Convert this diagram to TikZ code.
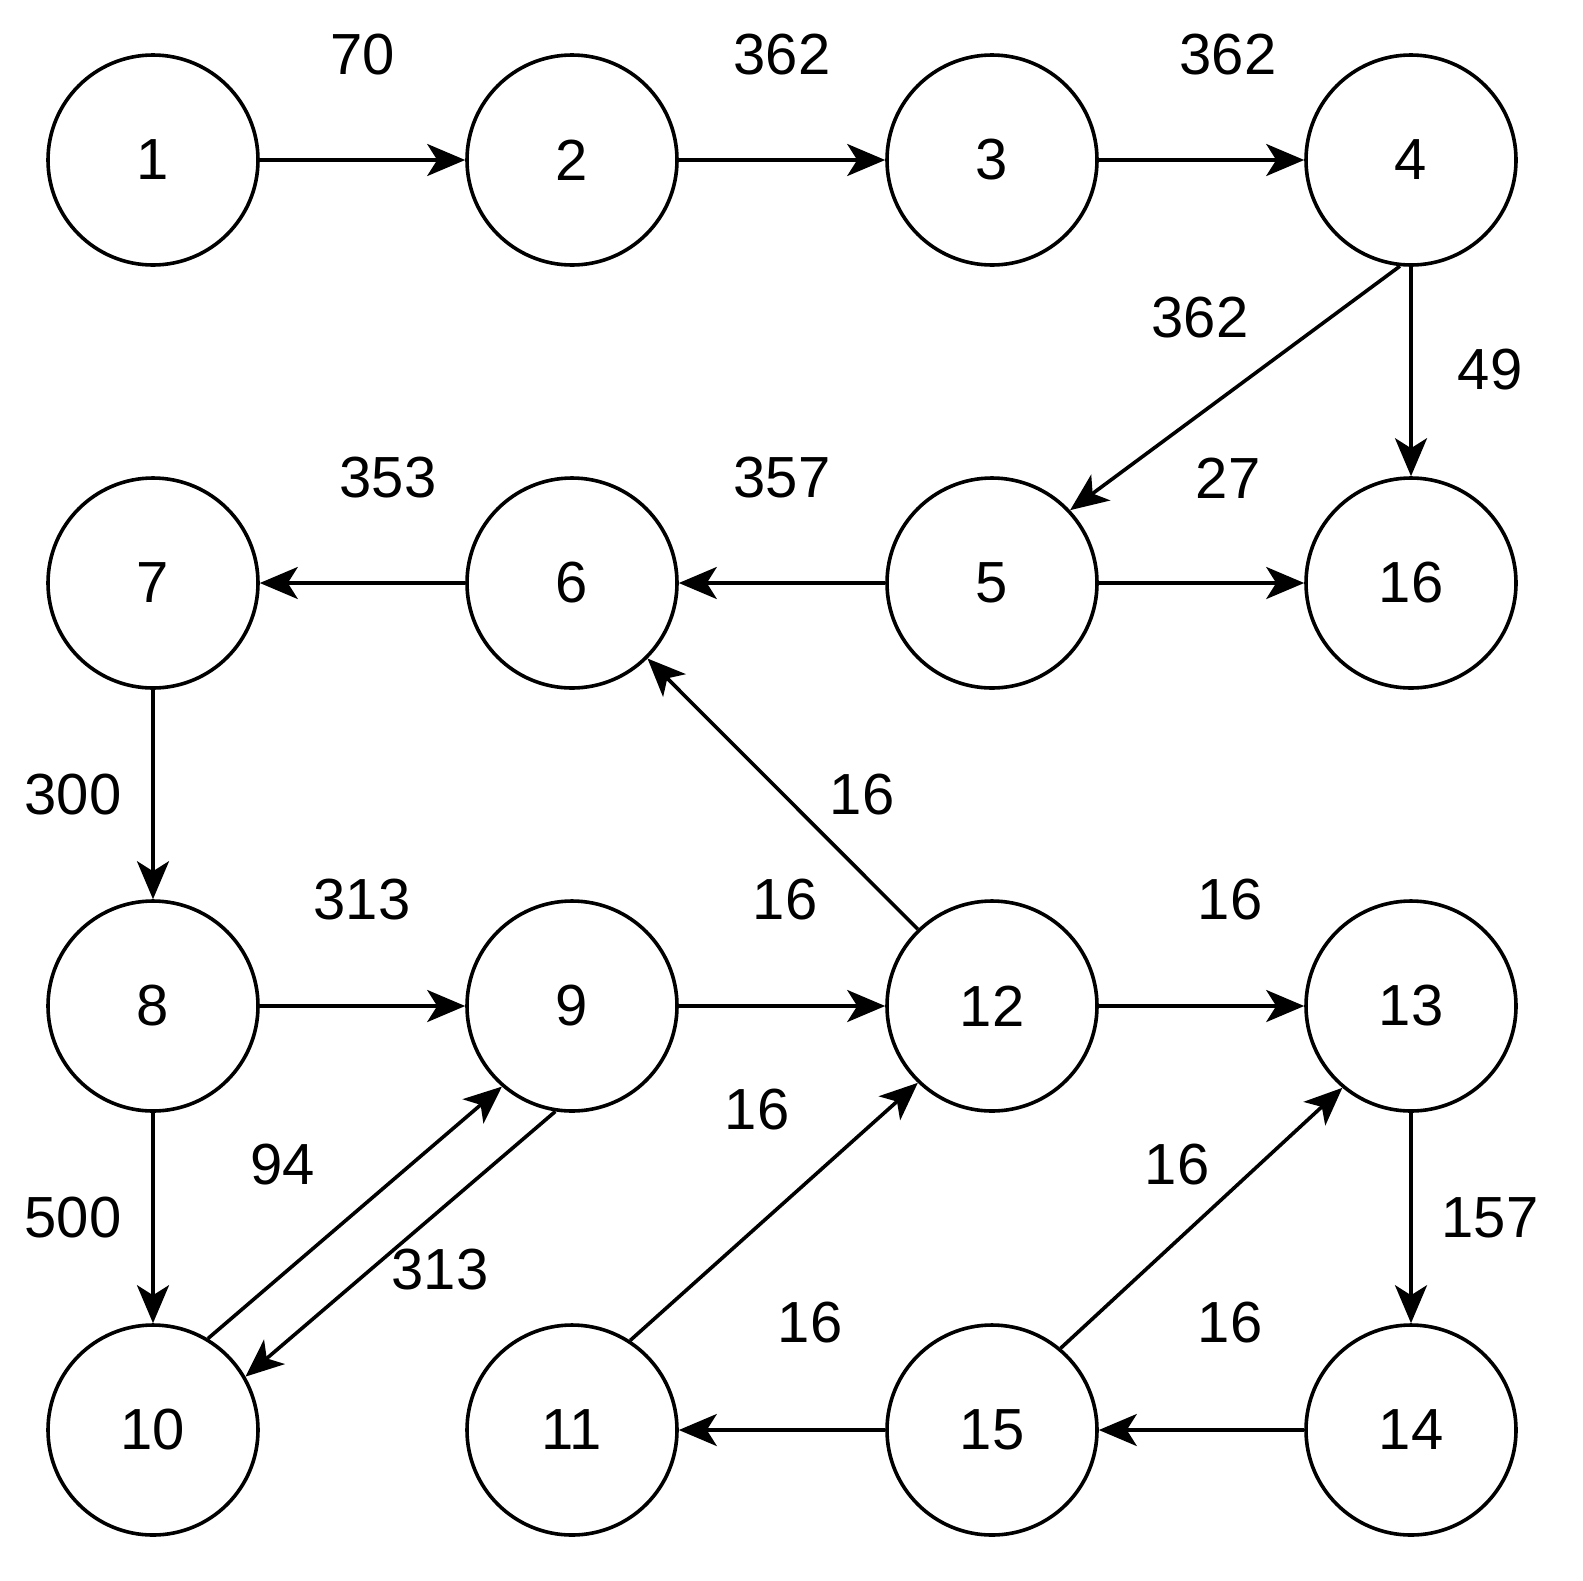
\documentclass[tikz,border=0pt]{standalone}
\usepackage{fontspec}
\setmainfont{Liberation Sans}
\usetikzlibrary{arrows.meta}
\begin{document}
\begin{tikzpicture}[x=0.5pt,y=-0.5pt,
  vert/.style={circle,draw,line width=1.8pt,minimum size=105pt,inner sep=0pt,font=\fontsize{29}{32}\selectfont},
  edge/.style={line width=1.8pt,-{Stealth[length=19pt,width=16pt,inset=5pt]}},
  lbl/.style={font=\fontsize{29}{32}\selectfont}]
\useasboundingbox (0,0) rectangle (1583,1580);
\node[vert] (n1) at (153,160) {1};
\node[vert] (n2) at (572,160) {2};
\node[vert] (n3) at (992,160) {3};
\node[vert] (n4) at (1411,160) {4};
\node[vert] (n7) at (153,583) {7};
\node[vert] (n6) at (572,583) {6};
\node[vert] (n5) at (992,583) {5};
\node[vert] (n16) at (1411,583) {16};
\node[vert] (n8) at (153,1006) {8};
\node[vert] (n9) at (572,1006) {9};
\node[vert] (n12) at (992,1006) {12};
\node[vert] (n13) at (1411,1006) {13};
\node[vert] (n10) at (153,1430) {10};
\node[vert] (n11) at (572,1430) {11};
\node[vert] (n15) at (992,1430) {15};
\node[vert] (n14) at (1411,1430) {14};
\draw[edge] (n1) -- (n2);
\draw[edge] (n2) -- (n3);
\draw[edge] (n3) -- (n4);
\draw[edge] (n4.264) -- (n5.43);
\draw[edge] (n4) -- (n16);
\draw[edge] (n5) -- (n6);
\draw[edge] (n5) -- (n16);
\draw[edge] (n6) -- (n7);
\draw[edge] (n7) -- (n8);
\draw[edge] (n8) -- (n9);
\draw[edge] (n8) -- (n10);
\draw[edge] (n10.59) -- (n9.229);
\draw[edge] (n9.261) -- (n10.30);
\draw[edge] (n9) -- (n12);
\draw[edge] (n12.134) -- (n6.315);
\draw[edge] (n12) -- (n13);
\draw[edge] (n11.57) -- (n12.226);
\draw[edge] (n15.50) -- (n13.230);
\draw[edge] (n13) -- (n14);
\draw[edge] (n14) -- (n15);
\draw[edge] (n15) -- (n11);
\node[lbl] (l1) at (363,55) {70};
\node[lbl] (l2) at (782,55) {362};
\node[lbl] (l3) at (1228,55) {362};
\node[lbl] (l4) at (1200,318) {362};
\node[lbl] (l5) at (1490,370) {49};
\node[lbl] (l6) at (388,478) {353};
\node[lbl] (l7) at (782,478) {357};
\node[lbl] (l8) at (1228,478) {27};
\node[lbl] (l9) at (73,795) {300};
\node[lbl] (l10) at (862,795) {16};
\node[lbl] (l11) at (362,900) {313};
\node[lbl] (l12) at (785,900) {16};
\node[lbl] (l13) at (1230,900) {16};
\node[lbl] (l14) at (283,1165) {94};
\node[lbl] (l15) at (73,1218) {500};
\node[lbl] (l16) at (757,1110) {16};
\node[lbl] (l17) at (1177,1165) {16};
\node[lbl] (l18) at (1490,1218) {157};
\node[lbl] (l19) at (440,1270) {313};
\node[lbl] (l20) at (810,1323) {16};
\node[lbl] (l21) at (1230,1323) {16};
\end{tikzpicture}
\end{document}
